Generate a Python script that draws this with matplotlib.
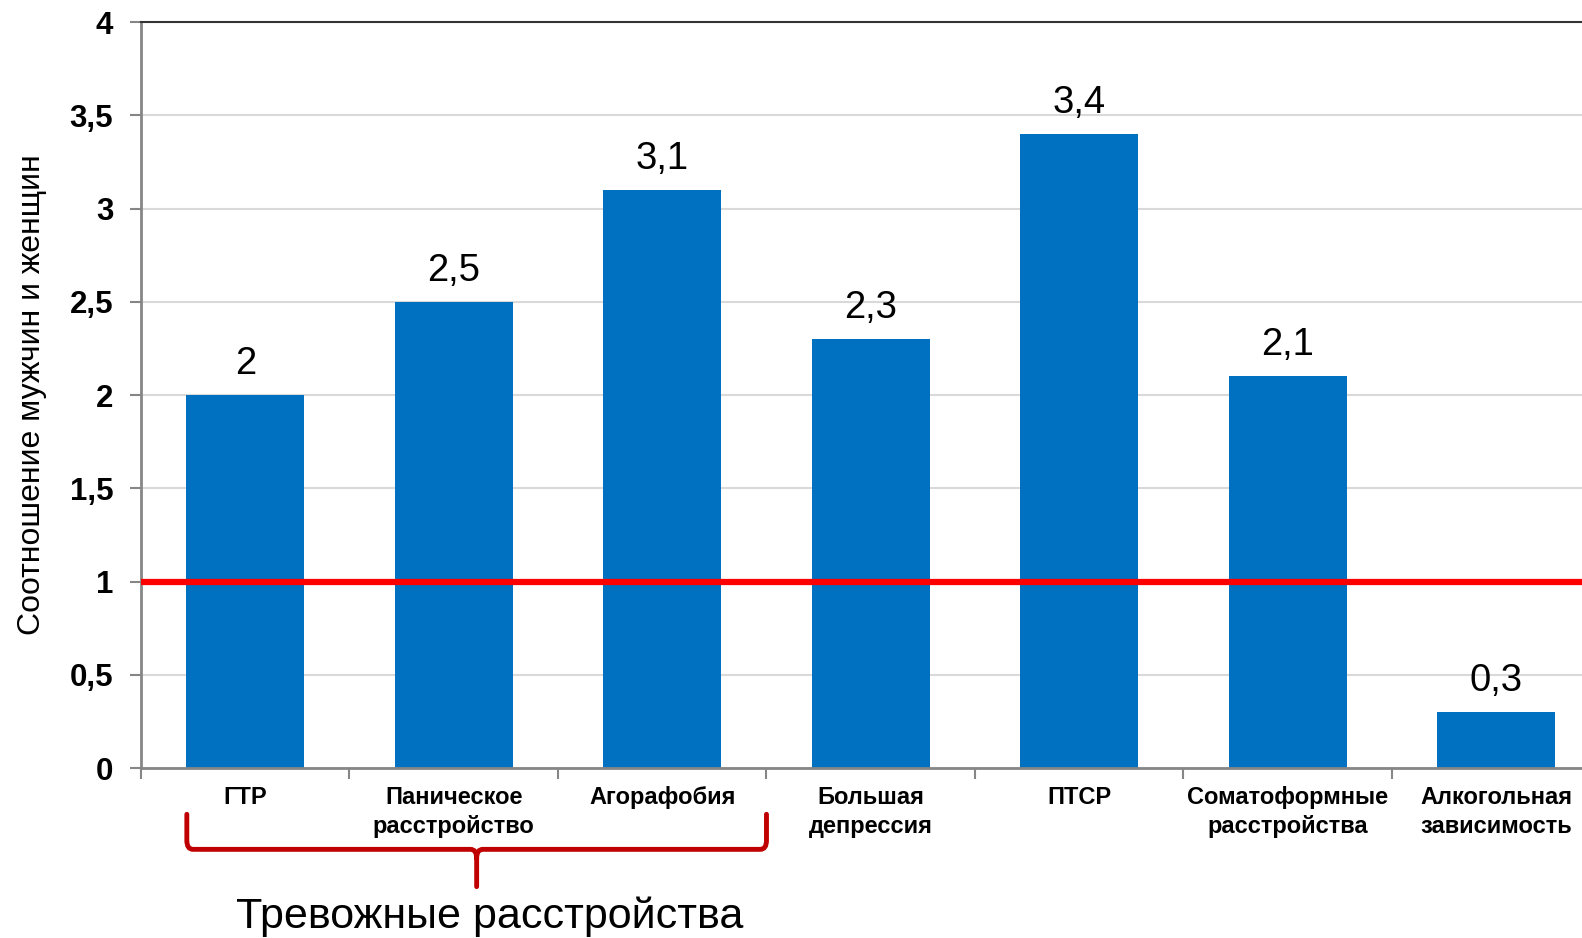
import numpy as np
import matplotlib.pyplot as plt
from matplotlib.path import Path
from matplotlib.patches import PathPatch
import matplotlib.transforms as mtransforms

plt.rcParams['font.family'] = ['Liberation Sans', 'DejaVu Sans']

# данные
categories = ['ГТР', 'Паническое\nрасстройство', 'Агорафобия', 'Большая\nдепрессия',
              'ПТСР', 'Соматоформные\nрасстройства', 'Алкогольная\nзависимость']
ratios = [2.0, 2.5, 3.1, 2.3, 3.4, 2.1, 0.3]
value_labels = ['2', '2,5', '3,1', '2,3', '3,4', '2,1', '0,3']
y_ticks = [0, 0.5, 1, 1.5, 2, 2.5, 3, 3.5, 4]
y_tick_labels = ['0', '0,5', '1', '1,5', '2', '2,5', '3', '3,5', '4']
reference_level = 1
group_label = 'Тревожные расстройства'

fig = plt.figure(figsize=(15.82, 9.38), dpi=100)
ax = fig.add_axes([0.0891, 0.1812, 0.9226, 0.7953])

x = np.arange(len(categories))
ax.bar(x, ratios, width=0.566, color='#0070C0', zorder=2)

for xi, v, lab in zip(x, ratios, value_labels):
    ax.text(xi, v + 0.07, lab, ha='center', va='bottom', fontsize=27.5, color='black')

ax.axhline(reference_level, color='#FF0000', lw=4.5, zorder=3)

ax.set_xlim(-0.5, len(categories) - 0.5)
ax.set_ylim(0, 4)
ax.set_yticks(y_ticks)
ax.set_yticklabels(y_tick_labels, fontsize=22.5, fontweight='bold')
ax.yaxis.grid(True, color='#D9D9D9', lw=1.5, zorder=0)
ax.set_axisbelow(True)

# подписи категорий по центрам, засечки по границам
ax.set_xticks(x)
ax.set_xticklabels(categories, fontsize=17, fontweight='bold', linespacing=1.35)
ax.tick_params(axis='x', length=0, pad=13)
ax.set_xticks(np.arange(len(categories) + 1) - 0.5, minor=True)
ax.tick_params(axis='x', which='minor', length=8, width=1.5, color='#868686', direction='out')
ax.tick_params(axis='y', length=8, width=1.5, color='#868686', direction='out', pad=12)

for side in ['left', 'bottom']:
    ax.spines[side].set_color('#868686')
    ax.spines[side].set_linewidth(2)
ax.spines['top'].set_color('#333333')
ax.spines['top'].set_linewidth(1.5)
ax.spines['right'].set_visible(False)

ax.set_ylabel('Соотношение мужчин и женщин', fontsize=23, labelpad=16)

# фигурная скобка под тревожными расстройствами
trans = mtransforms.blended_transform_factory(ax.transData, ax.transAxes)
x0, x1, xc = -0.28, 2.5, 1.11
yt, yh, yb = -0.062, -0.109, -0.159
r = 0.03
ry = 0.012
verts = [
    (x0, yt), (x0, yh + ry), (x0, yh), (x0 + r, yh),
    (xc - r, yh), (xc, yh), (xc, yh - ry),
    (xc, yb),
    (xc, yh - ry), (xc, yh), (xc + r, yh),
    (x1 - r, yh), (x1, yh), (x1, yh + ry), (x1, yt),
]
codes = [Path.MOVETO, Path.LINETO, Path.CURVE3, Path.CURVE3,
         Path.LINETO, Path.CURVE3, Path.CURVE3,
         Path.LINETO,
         Path.MOVETO, Path.CURVE3, Path.CURVE3,
         Path.LINETO, Path.CURVE3, Path.CURVE3, Path.LINETO]
brace = PathPatch(Path(verts, codes), transform=trans, fill=False,
                  edgecolor='#C00000', lw=3.5, clip_on=False, capstyle='round')
ax.add_patch(brace)
ax.text(1.174, -0.2, group_label, transform=trans, ha='center', va='center',
        fontsize=31, color='black')

fig.savefig('out.png', dpi=100)
